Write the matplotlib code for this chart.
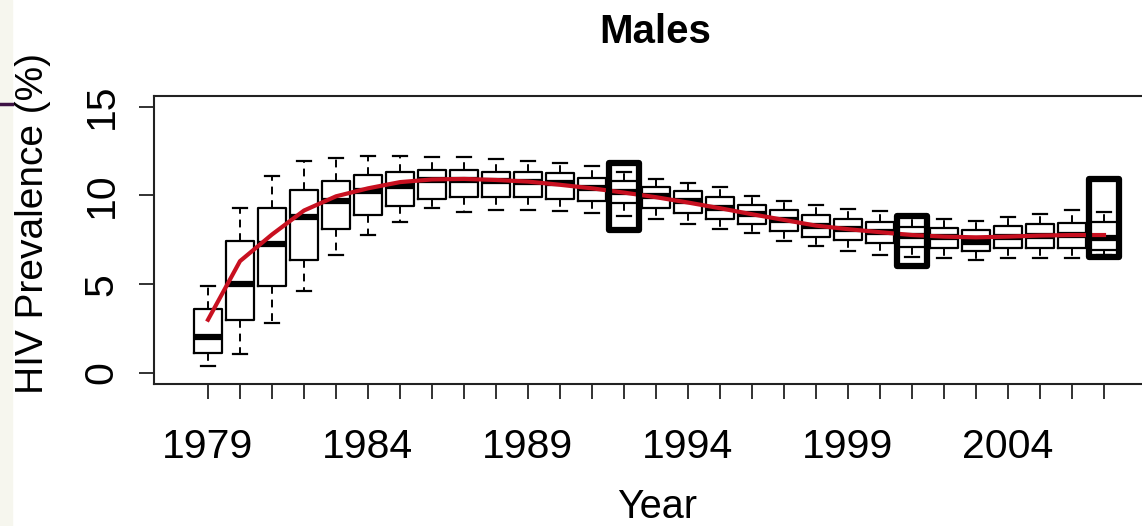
import matplotlib
matplotlib.use('Agg')
import matplotlib.pyplot as plt
from matplotlib.patches import Rectangle
from matplotlib.lines import Line2D

plt.rcParams['font.family'] = ['Liberation Sans', 'DejaVu Sans']

# %%
years = list(range(1979, 2008))
whisk_lo = [0.41, 1.05, 2.80, 4.62, 6.65, 7.77, 8.49, 9.30, 9.09, 9.18,
            9.18, 9.14, 9.00, 8.86, 8.68, 8.38, 8.10, 7.87, 7.45, 7.15,
            6.87, 6.65, 6.55, 6.46, 6.37, 6.46, 6.46, 6.50, 6.65]
q1 = [1.15, 2.97, 4.92, 6.35, 8.10, 8.88, 9.41, 9.80, 9.90, 9.90,
      9.90, 9.78, 9.71, 9.56, 9.31, 9.00, 8.68, 8.38, 8.00, 7.64,
      7.49, 7.30, 7.12, 7.02, 6.89, 7.02, 7.06, 7.06, 6.93]
med = [2.05, 5.01, 7.27, 8.79, 9.71, 10.25, 10.54, 10.87, 10.87, 10.80,
       10.77, 10.68, 10.40, 10.21, 9.97, 9.69, 9.28, 8.94, 8.62, 8.28,
       8.10, 7.96, 7.72, 7.68, 7.36, 7.64, 7.72, 7.77, 7.59]
q3 = [3.59, 7.46, 9.28, 10.31, 10.82, 11.14, 11.32, 11.44, 11.44, 11.34,
      11.34, 11.25, 11.00, 10.83, 10.50, 10.25, 9.90, 9.48, 9.18, 8.88,
      8.68, 8.50, 8.24, 8.19, 8.06, 8.28, 8.38, 8.47, 8.49]
whisk_hi = [4.92, 9.28, 11.10, 11.93, 12.11, 12.24, 12.24, 12.15, 12.15, 12.03,
            11.93, 11.85, 11.63, 11.32, 10.91, 10.72, 10.50, 9.97, 9.71, 9.48,
            9.26, 9.14, 8.81, 8.68, 8.58, 8.77, 8.96, 9.18, 9.09]
fit = [3.0, 6.3, 7.8, 9.15, 9.95, 10.4, 10.75, 10.9, 10.93, 10.87,
       10.78, 10.6, 10.4, 10.16, 9.9, 9.6, 9.28, 8.94, 8.62, 8.3,
       8.1, 7.93, 7.77, 7.68, 7.64, 7.68, 7.74, 7.77, 7.77]
tick_years = [1979, 1984, 1989, 1994, 1999, 2004]
y_ticks = [0, 5, 10, 15]

# highlighted years
hl_years = [1992, 2001, 2007]
hl_lo = [8.07, 6.05, 6.54]
hl_hi = [11.83, 8.86, 10.93]

# %%
W, H = 1142, 526
fig = plt.figure(figsize=(W / 100, H / 100), dpi=100)

# slide remnants on the left edge
fig.patches.append(Rectangle((0, 0), 12 / W, 1, transform=fig.transFigure,
                             color='#f6f6ee', zorder=0))
fig.add_artist(Line2D([0, 12 / W], [1 - 104 / H] * 2, color='#3d1144', lw=2.5))

ax = fig.add_axes([154 / W, 142 / H, 1 - 154 / W, 288 / H])

stats = []
for i in range(len(years)):
    stats.append(dict(med=med[i], q1=q1[i], q3=q3[i],
                      whislo=whisk_lo[i], whishi=whisk_hi[i], fliers=[]))

ax.bxp(stats, positions=years, widths=0.86, capwidths=0.45, showfliers=False,
       boxprops=dict(color='black', linewidth=1.6),
       whiskerprops=dict(color='black', linewidth=1.4, linestyle=(0, (4, 3))),
       capprops=dict(color='black', linewidth=1.6),
       medianprops=dict(color='black', linewidth=4.5, solid_capstyle='butt'))

ax.plot(years, fit, color='#c81020', lw=3, zorder=4)

for yr, lo, hi in zip(hl_years, hl_lo, hl_hi):
    ax.add_patch(Rectangle((yr - 0.47, lo), 0.94, hi - lo, fill=False,
                           ec='black', lw=4.5, joinstyle='round', zorder=5))

ax.set_xlim(1979 - 54 / 32, 2007 + 38 / 32)
ax.set_ylim(-0.62, 15.6)
ax.set_xticks(years)
ax.set_xticklabels([str(y) if y in tick_years else '' for y in years])
ax.set_yticks(y_ticks)
ax.set_yticklabels([str(v) for v in y_ticks], rotation=90, va='center')
ax.spines['right'].set_visible(False)
for s in ['left', 'top', 'bottom']:
    ax.spines[s].set_linewidth(1.5)
    ax.spines[s].set_color('#222222')
ax.tick_params(axis='both', length=11, width=1.3, labelsize=29.5, color='#222222')
ax.tick_params(axis='x', pad=21)
ax.tick_params(axis='y', pad=13)

fig.text(655 / W, 1 - 43 / H, 'Males', ha='center', va='baseline',
         fontsize=29, fontweight='bold')
fig.text(657 / W, 1 - 518 / H, 'Year', ha='center', va='baseline', fontsize=28.5)
fig.text(33 / W, 1 - 223 / H, 'HIV Prevalence (%)', ha='center', va='center',
         rotation=90, fontsize=28)

fig.savefig('out.png', dpi=100)
